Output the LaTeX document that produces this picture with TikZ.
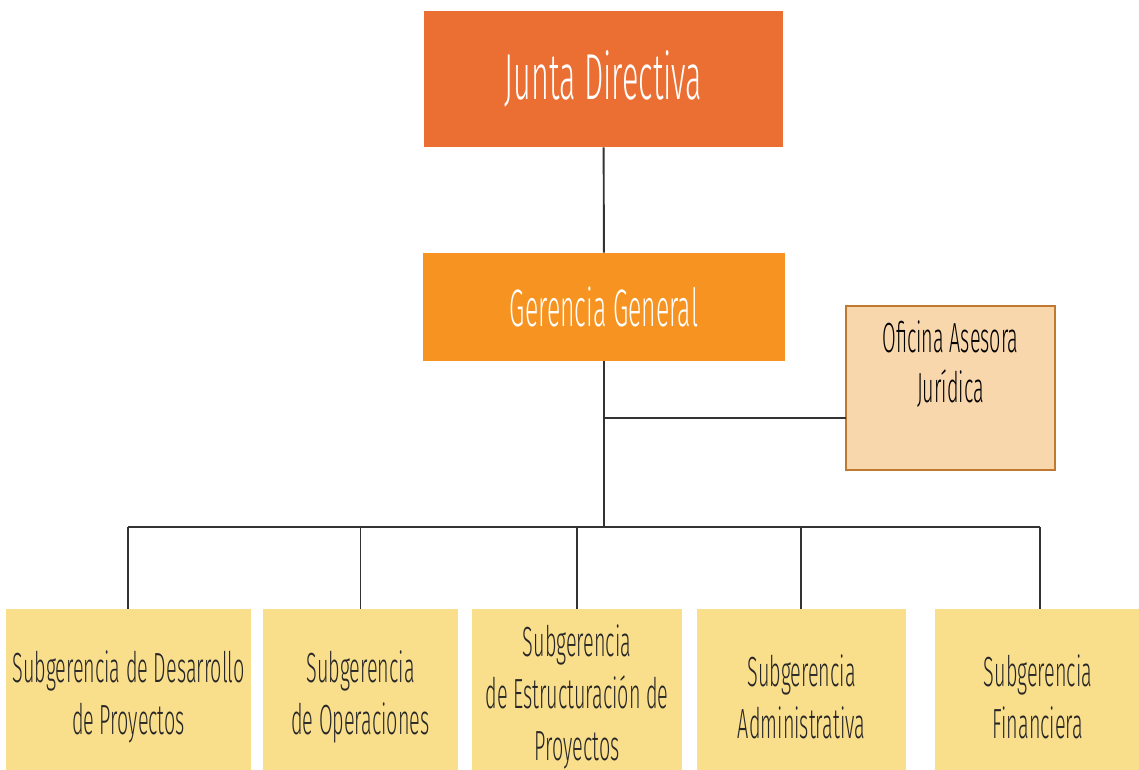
\documentclass[tikz,border=0pt]{standalone}
\usepackage{fontspec}
\setmainfont{Fira Sans}[FakeStretch=0.47, UprightFont=* Light]
\definecolor{juntacol}{HTML}{EB6E33}
\definecolor{gerencol}{HTML}{F79421}
\definecolor{oficol}{HTML}{F9D7AD}
\definecolor{ofiline}{HTML}{C07A30}
\definecolor{subcol}{HTML}{F9DE8C}
\definecolor{linecol}{HTML}{333333}

\tikzstyle{topbox} = [rectangle, fill=juntacol, text=white, align=center,
    minimum width=7.18cm, minimum height=2.72cm, font=\fontsize{37}{44}\selectfont]
\tikzstyle{genbox} = [rectangle, fill=gerencol, text=white, align=center,
    minimum width=7.24cm, minimum height=2.16cm, font=\fontsize{30}{36}\selectfont]
\tikzstyle{staffbox} = [rectangle, draw=ofiline, line width=1.2pt, fill=oficol, align=center,
    minimum width=4.18cm, minimum height=3.28cm, text depth=1.05cm,
    font=\fontsize{24}{28.5}\selectfont]
\tikzstyle{subbox} = [rectangle, fill=subcol, text=black!85, align=center,
    minimum height=3.52cm, font=\fontsize{24}{29.5}\selectfont]
\tikzstyle{link} = [draw=linecol, line width=1.1pt]

\begin{document}
\begin{tikzpicture}[x=0.02cm, y=-0.02cm]
    \useasboundingbox (0,0) rectangle (1139,769);
    \node [topbox] (junta) at (603.5,79) {Junta Directiva};
    \node [genbox] (gerencia) at (604,307) {Gerencia General};
    \node [staffbox] (juridica) at (950.5,388) {Oficina Asesora\\Jurídica};

    \node [subbox, minimum width=4.78cm] (desarrollo) at (128.5,697) {Subgerencia de Desarrollo\\de Proyectos};
    \node [subbox, minimum width=3.90cm] (operaciones) at (360.5,697) {Subgerencia\\de Operaciones};
    \node [subbox, minimum width=4.20cm] (estructuracion) at (577,697) {Subgerencia\\de Estructuración de\\Proyectos};
    \node [subbox, minimum width=4.18cm] (administrativa) at (801.5,697) {Subgerencia\\Administrativa};
    \node [subbox, minimum width=4.12cm] (financiera) at (1038,697) {Subgerencia\\Financiera};

    \coordinate (bus) at (604,527);
    \coordinate (staff) at (846,418);

    \draw [link] (junta) -- (gerencia);
    \draw [link] (gerencia) -- (bus);
    \draw [link] (staff) -- (staff -| gerencia.south);
    \draw [link] (bus -| 128,0) -- (bus -| 1040,0);
    \draw [link] (bus -| 128,0) -- (desarrollo.north -| 128,0);
    \draw [link] (bus -| operaciones) -- (operaciones);
    \draw [link] (bus -| estructuracion) -- (estructuracion);
    \draw [link] (bus -| 801,0) -- (administrativa.north -| 801,0);
    \draw [link] (bus -| 1040,0) -- (financiera.north -| 1040,0);
\end{tikzpicture}
\end{document}
